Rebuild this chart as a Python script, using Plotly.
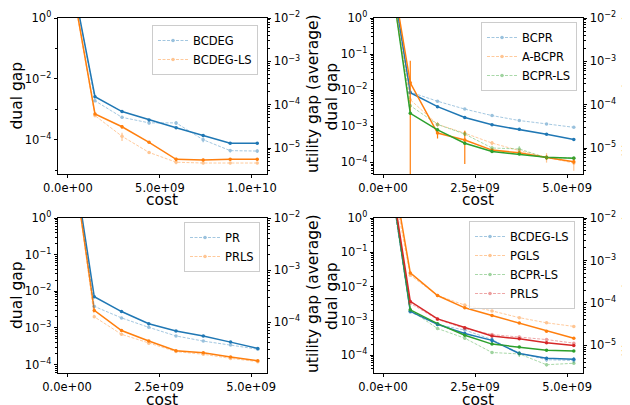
import plotly.graph_objects as go

# ---------------- data ----------------
cost_a = [0, 1.47e9, 2.94e9, 4.41e9, 5.88e9, 7.35e9, 8.82e9, 10.29e9]
cost_b = [0, 0.74e9, 1.48e9, 2.22e9, 2.96e9, 3.70e9, 4.44e9, 5.18e9]

# panel 1 (top-left)
bcdeg_dual = [100, 2.6e-3, 8.5e-4, 4.5e-4, 2.5e-4, 1.4e-4, 7.7e-5, 7.7e-5]
bcdeg_dual_err = [0, 2e-4, 5e-5, 2e-5, 1e-5, 1e-5, 5e-6, 5e-6]
bcdeg_util = [0.3, 1.23e-4, 5.1e-5, 3.8e-5, 3.8e-5, 1.55e-5, 8.7e-6, 8.5e-6]
bcdeg_util_err = [0, 1e-5, 4e-6, 3e-6, 4e-6, 2e-6, 8e-7, 8e-7]
bcdegls_dual = [80, 7.1e-4, 2.7e-4, 8.3e-5, 2.3e-5, 2.2e-5, 2.3e-5, 2.3e-5]
bcdegls_dual_err = [0, 5e-5, 4e-5, 5e-6, 3e-6, 2e-6, 2e-6, 2e-6]
bcdegls_util = [0.2, 5.6e-5, 1.86e-5, 7.9e-6, 4.7e-6, 4.5e-6, 4.5e-6, 4.5e-6]
bcdegls_util_err = [0, 5e-6, 4e-6, 5e-7, 5e-7, 3e-7, 3e-7, 3e-7]

# panel 2 (top-right)
bcpr_dual = [500, 8.5e-3, 3.5e-3, 1.75e-3, 1.1e-3, 8.3e-4, 6.0e-4, 4.3e-4]
bcpr_dual_err = [0, 3e-4, 1e-4, 5e-5, 3e-5, 2e-5, 1e-5, 1e-5]
bcpr_util = [1.0, 1.95e-4, 1.2e-4, 7.9e-5, 5.6e-5, 4.3e-5, 3.6e-5, 3.0e-5]
bcpr_util_err = [0, 5e-6, 3e-6, 2e-6, 1e-6, 1e-6, 1e-6, 1e-6]
abcpr_dual = [500, 1.6e-2, 6.5e-4, 4.2e-4, 2.2e-4, 1.85e-4, 1.37e-4, 1.04e-4]
abcpr_dual_err = [0, 4.9e-2, 1.9e-4, 3.3e-4, 2e-5, 2e-5, 2e-5, 1.5e-5]
abcpr_util = [1.0, 1.3e-4, 3.5e-5, 2.2e-5, 1.3e-5, 8.7e-6, 6.1e-6, 4.5e-6]
abcpr_util_err = [0, 2e-5, 5e-6, 3e-6, 1.5e-6, 1e-6, 1.5e-6, 1.5e-6]
bcprls_dual = [500, 2.3e-3, 8.0e-4, 3.4e-4, 2.0e-4, 1.7e-4, 1.4e-4, 1.3e-4]
bcprls_dual_err = [0, 1e-4, 4e-5, 2e-5, 1e-5, 1e-5, 8e-6, 8e-6]
bcprls_util = [1.0, 9.5e-5, 3.5e-5, 2.1e-5, 1.0e-5, 9.5e-6, 5.9e-6, 5.9e-6]
bcprls_util_err = [0, 1e-5, 3e-6, 2e-6, 1e-6, 1.5e-6, 5e-7, 5e-7]

# panel 3 (bottom-left)
pr_dual = [500, 7.1e-3, 2.8e-3, 1.3e-3, 8.2e-4, 6.0e-4, 4.1e-4, 2.75e-4]
pr_dual_err = [0, 3e-4, 1e-4, 5e-5, 3e-5, 2e-5, 1e-5, 1e-5]
pr_util = [1.0, 2.0e-4, 1.2e-4, 7.9e-5, 5.4e-5, 4.3e-5, 3.6e-5, 3.0e-5]
pr_util_err = [0, 1e-5, 4e-6, 3e-6, 2e-6, 1e-6, 1e-6, 1e-6]
prls_dual = [500, 3.0e-3, 8.5e-4, 4.4e-4, 2.4e-4, 2.1e-4, 1.6e-4, 1.28e-4]
prls_dual_err = [0, 1e-4, 3e-5, 2e-5, 1e-5, 8e-6, 6e-6, 5e-6]
prls_util = [1.0, 1.26e-4, 5.8e-5, 3.9e-5, 2.7e-5, 2.4e-5, 2.0e-5, 1.73e-5]
prls_util_err = [0, 6e-6, 3e-6, 2e-6, 1e-6, 1e-6, 8e-7, 8e-7]

# panel 4 (bottom-right)
bcdegls2_dual = [500, 1.9e-3, 7.9e-4, 4.3e-4, 2.7e-4, 1.12e-4, 8.1e-5, 7.6e-5]
bcdegls2_dual_err = [0, 1.5e-4, 5e-5, 4e-5, 5e-5, 1e-5, 8e-6, 1e-5]
bcdegls2_util = [1.0, 6.1e-5, 3.1e-5, 2.3e-5, 1.37e-5, 6.6e-6, 4.6e-6, 4.4e-6]
bcdegls2_util_err = [0, 4e-6, 2e-6, 2e-6, 1.5e-6, 8e-7, 5e-7, 6e-7]
pgls_dual = [1000, 2.5e-2, 5.5e-3, 2.4e-3, 1.44e-3, 8.7e-4, 5.0e-4, 3.1e-4]
pgls_dual_err = [0, 1e-3, 2e-4, 1e-4, 5e-5, 3e-5, 2e-5, 1e-5]
pgls_util = [1.0, 4.5e-4, 1.5e-4, 8.9e-5, 6.5e-5, 4.5e-5, 3.4e-5, 2.8e-5]
pgls_util_err = [0, 2e-5, 5e-6, 3e-6, 2e-6, 1e-6, 1e-6, 1e-6]
bcprls2_dual = [500, 2.1e-3, 8.3e-4, 3.8e-4, 2.1e-4, 1.73e-4, 1.4e-4, 1.32e-4]
bcprls2_dual_err = [0, 1e-4, 4e-5, 2e-5, 1e-5, 1e-5, 8e-6, 8e-6]
bcprls2_util = [1.0, 6.8e-5, 2.5e-5, 1.48e-5, 6.8e-6, 6.3e-6, 3.5e-6, 3.8e-6]
bcprls2_util_err = [0, 5e-6, 2e-6, 1e-6, 5e-7, 1e-6, 3e-7, 3e-7]
prls2_dual = [500, 3.7e-3, 1.14e-3, 6.3e-4, 3.6e-4, 3.0e-4, 2.3e-4, 1.9e-4]
prls2_dual_err = [0, 3e-4, 5e-5, 3e-5, 2e-5, 1.5e-5, 1e-5, 1e-5]
prls2_util = [1.0, 9.8e-5, 4.1e-5, 2.5e-5, 1.8e-5, 1.58e-5, 1.37e-5, 1.13e-5]
prls2_util_err = [0, 5e-6, 2e-6, 1.5e-6, 1e-6, 1e-6, 8e-7, 8e-7]

# tick labels
x_ticks_a = [0, 5e9, 1e10]
x_ticklabels_a = ["0.0e+00", "5.0e+09", "1.0e+10"]
x_ticks_b = [0, 2.5e9, 5e9]
x_ticklabels_b = ["0.0e+00", "2.5e+09", "5.0e+09"]

# ---------------- style ----------------
W, H = 630, 405
OFFX, OFFY = 8, 0  # page body offset compensation (pixels)
FONT = "DejaVu Sans"
BLUE, ORANGE, GREEN, RED = "#1f77b4", "#ff7f0e", "#2ca02c", "#d62728"


def fx(p):
    return (p - OFFX) / W


def fy(p):
    return 1 - (p - OFFY) / H


def pow_label(e):
    return "10<sup>%s</sup>" % (str(e).replace("-", "\u2212"))


def log_ticks(exps):
    return [10.0 ** e for e in exps], [pow_label(e) for e in exps]


def minor_vals(lo, hi):
    vals = []
    for k in range(lo, hi + 1):
        for m in range(2, 10):
            vals.append(m * 10.0 ** k)
    return vals


fig = go.Figure()


def errs(vals, e):
    return [min(ei, v * (1 - 1e-9)) for v, ei in zip(vals, e)]


def add_series(x, dual, dual_err, util, util_err, name, color, xa, ya_l, ya_r, legend):
    fig.add_trace(go.Scatter(
        x=x, y=dual, mode="lines+markers", name=name, showlegend=False,
        xaxis=xa, yaxis=ya_l, line=dict(color=color, width=1.5),
        marker=dict(size=3.5, color=color),
        error_y=dict(type="data", array=dual_err, arrayminus=errs(dual, dual_err),
                     color=color, thickness=1.2, width=0),
        legend=legend))
    fig.add_trace(go.Scatter(
        x=x, y=util, mode="lines+markers", name=name, showlegend=True,
        xaxis=xa, yaxis=ya_r, line=dict(color=color, width=0.9, dash="3px,1.5px"),
        marker=dict(size=3.5, color=color), opacity=0.45,
        error_y=dict(type="data", array=util_err, arrayminus=errs(util, util_err),
                     color=color, thickness=1.2, width=0),
        legend=legend))


add_series(cost_a, bcdeg_dual, bcdeg_dual_err, bcdeg_util, bcdeg_util_err, "BCDEG", BLUE, "x", "y", "y2", "legend")
add_series(cost_a, bcdegls_dual, bcdegls_dual_err, bcdegls_util, bcdegls_util_err, "BCDEG-LS", ORANGE, "x", "y", "y2", "legend")

add_series(cost_b, bcpr_dual, bcpr_dual_err, bcpr_util, bcpr_util_err, "BCPR", BLUE, "x2", "y3", "y4", "legend2")
add_series(cost_b, abcpr_dual, abcpr_dual_err, abcpr_util, abcpr_util_err, "A-BCPR", ORANGE, "x2", "y3", "y4", "legend2")
add_series(cost_b, bcprls_dual, bcprls_dual_err, bcprls_util, bcprls_util_err, "BCPR-LS", GREEN, "x2", "y3", "y4", "legend2")

add_series(cost_b, pr_dual, pr_dual_err, pr_util, pr_util_err, "PR", BLUE, "x3", "y5", "y6", "legend3")
add_series(cost_b, prls_dual, prls_dual_err, prls_util, prls_util_err, "PRLS", ORANGE, "x3", "y5", "y6", "legend3")

add_series(cost_b, bcdegls2_dual, bcdegls2_dual_err, bcdegls2_util, bcdegls2_util_err, "BCDEG-LS", BLUE, "x4", "y7", "y8", "legend4")
add_series(cost_b, pgls_dual, pgls_dual_err, pgls_util, pgls_util_err, "PGLS", ORANGE, "x4", "y7", "y8", "legend4")
add_series(cost_b, bcprls2_dual, bcprls2_dual_err, bcprls2_util, bcprls2_util_err, "BCPR-LS", GREEN, "x4", "y7", "y8", "legend4")
add_series(cost_b, prls2_dual, prls2_dual_err, prls2_util, prls2_util_err, "PRLS", RED, "x4", "y7", "y8", "legend4")

axis_common = dict(
    showline=True, linecolor="black", linewidth=0.8, ticks="outside", ticklen=3.5,
    tickwidth=0.8, tickcolor="black", showgrid=False, zeroline=False, automargin=False,
    tickfont=dict(family=FONT, size=11.5, color="black"),
)


def xaxis(dom, anchor, rng, tv, tt):
    d = dict(axis_common)
    d.update(domain=dom, anchor=anchor, range=rng, tickmode="array",
             tickvals=tv, ticktext=tt, mirror=True)
    return d


def yaxis_left(dom, anchor, rng, exps, minor):
    tv, tt = log_ticks(exps)
    d = dict(axis_common)
    d.update(domain=dom, anchor=anchor, type="log", range=rng, tickmode="array",
             tickvals=tv, ticktext=tt, side="left",
             minor=dict(ticks="outside", ticklen=2, tickwidth=0.6, tickcolor="black",
                        tickmode="array", tickvals=minor, showgrid=False))
    return d


def yaxis_right(overlay, anchor, rng, exps, minor):
    tv, tt = log_ticks(exps)
    d = dict(axis_common)
    d.update(overlaying=overlay, anchor=anchor, type="log", range=rng, tickmode="array",
             tickvals=tv, ticktext=tt, side="right",
             minor=dict(ticks="outside", ticklen=2, tickwidth=0.6, tickcolor="black",
                        tickmode="array", tickvals=minor, showgrid=False))
    return d


top = [fy(166), fy(10)]
bot = [fy(365), fy(210)]
left = [fx(58), fx(267)]
right = [fx(374), fx(583)]

fig.update_layout(
    xaxis=xaxis(left, "y", [-0.54e9, 10.82e9], x_ticks_a, x_ticklabels_a),
    yaxis=yaxis_left(top, "x", [-5.12, 0], [0, -2, -4], [1e-1, 1e-3, 1e-5]),
    yaxis2=yaxis_right("y", "x", [-5.6, -2], [-2, -3, -4, -5], minor_vals(-6, -3)),
    xaxis2=xaxis(right, "y3", [-0.245e9, 5.43e9], x_ticks_b, x_ticklabels_b),
    yaxis3=yaxis_left(top, "x2", [-4.32, 0], [0, -1, -2, -3, -4], minor_vals(-5, -1)),
    yaxis4=yaxis_right("y3", "x2", [-5.6, -2], [-2, -3, -4, -5], minor_vals(-6, -3)),
    xaxis3=xaxis(left, "y5", [-0.245e9, 5.43e9], x_ticks_b, x_ticklabels_b),
    yaxis5=yaxis_left(bot, "x3", [-4.23, 0], [0, -1, -2, -3, -4], minor_vals(-5, -1)),
    yaxis6=yaxis_right("y5", "x3", [-4.98, -2], [-2, -3, -4], minor_vals(-5, -3)),
    xaxis4=xaxis(right, "y7", [-0.245e9, 5.43e9], x_ticks_b, x_ticklabels_b),
    yaxis7=yaxis_left(bot, "x4", [-4.52, 0], [0, -1, -2, -3, -4], minor_vals(-5, -1)),
    yaxis8=yaxis_right("y7", "x4", [-5.65, -2], [-2, -3, -4, -5], minor_vals(-6, -3)),
)

legend_common = dict(
    bgcolor="rgba(255,255,255,0.8)", bordercolor="#cccccc", borderwidth=1,
    font=dict(family=FONT, size=11.5, color="black"), xanchor="right", yanchor="top",
    xref="paper", yref="paper", tracegroupgap=0, itemwidth=30,
)
fig.update_layout(
    legend=dict(legend_common, x=fx(258), y=fy(17)),
    legend2=dict(legend_common, x=fx(577), y=fy(14)),
    legend3=dict(legend_common, x=fx(260), y=fy(214)),
    legend4=dict(legend_common, x=fx(575), y=fy(213)),
)

annotations = []
TITLE_FONT = dict(family=FONT, size=15.5, color="black")
for cx, cy in [(16.5, 88), (331.5, 88), (16.5, 287.5), (331.5, 287.5)]:
    annotations.append(dict(text="dual gap", x=fx(cx), y=fy(cy), xref="paper", yref="paper",
                            showarrow=False, textangle=-90, font=TITLE_FONT,
                            xanchor="center", yanchor="middle"))
for cx, cy in [(313, 86), (629, 86), (313, 286), (629, 286)]:
    annotations.append(dict(text="utility gap (average)", x=fx(cx), y=fy(cy), xref="paper",
                            yref="paper", showarrow=False, textangle=-90, font=TITLE_FONT,
                            xanchor="center", yanchor="middle"))
for cx, cy in [(162, 192), (478, 192), (162, 392), (478, 392)]:
    annotations.append(dict(text="cost", x=fx(cx), y=fy(cy), xref="paper", yref="paper",
                            showarrow=False, font=TITLE_FONT, xanchor="center", yanchor="middle"))

fig.update_layout(
    annotations=annotations,
    width=W, height=H, margin=dict(l=0, r=0, t=0, b=0, autoexpand=False),
    paper_bgcolor="white", plot_bgcolor="white",
    font=dict(family=FONT, color="black"),
)

fig.write_html("out.html")
